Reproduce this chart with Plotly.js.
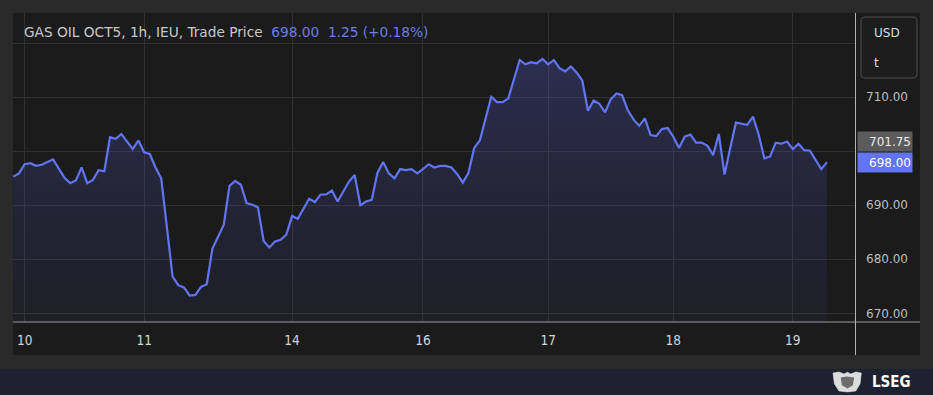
<!DOCTYPE html>
<html>
<head>
<meta charset="utf-8">
<script src="https://cdn.plot.ly/plotly-3.0.1.min.js"></script>
<style>
  html, body { margin: 0; padding: 0; background: #2a2a2a; }
  #chart { width: 933px; height: 395px; }
</style>
</head>
<body>
<div id="chart"></div>
<script>
// Hourly trade prices (USD/t), GAS OIL OCT5
const prices = [
  695.3, 695.9, 697.6, 697.8, 697.3, 697.5, 698.0, 698.5, 696.8, 695.1,
  694.1, 694.6, 697.0, 694.1, 694.7, 696.5, 696.3, 702.6, 702.3, 703.2,
  701.8, 700.4, 702.0, 699.8, 699.5, 697.0, 695.0, 686.0, 676.8, 675.2,
  674.8, 673.3, 673.4, 674.9, 675.4, 682.0, 684.3, 686.4, 693.6, 694.5,
  693.8, 690.4, 690.1, 689.6, 683.4, 682.2, 683.3, 683.6, 684.6, 688.0,
  687.5, 689.4, 691.2, 690.6, 692.0, 692.0, 692.7, 690.7, 692.5, 694.4,
  695.6, 690.0, 690.7, 691.0, 696.0, 698.0, 695.9, 695.0, 696.7, 696.5,
  696.7, 695.9, 696.7, 697.6, 697.0, 697.3, 697.3, 697.0, 695.8, 694.2,
  696.0, 700.6, 702.0, 706.0, 710.1, 709.1, 709.1, 709.8, 713.4, 716.9,
  716.1, 716.5, 716.3, 717.1, 716.1, 716.9, 715.4, 714.8, 715.7, 714.6,
  713.1, 707.5, 709.4, 708.8, 707.2, 709.6, 710.7, 710.4, 707.6, 705.9,
  704.7, 706.1, 703.0, 702.8, 704.1, 704.3, 702.7, 700.6, 702.7, 703.1,
  701.6, 701.6, 701.0, 699.3, 703.2, 695.7, 700.6, 705.3, 705.1, 704.9,
  706.4, 703.1, 698.7, 699.0, 701.6, 701.4, 701.8, 700.4, 701.4, 700.2,
  700.1, 698.4, 696.7, 698.0
];
const hourIndex = prices.map((_, i) => i);

// Day tick labels (bar index where each trading day starts)
const dayTickIndex = [2, 23, 49, 72, 94, 116, 137];
const dayTickLabels = ['10', '11', '14', '16', '17', '18', '19'];

// Price axis
const priceTicks = [670, 680, 690, 700, 710, 720];
const priceTickLabels = ['670.00', '680.00', '690.00', '', '710.00', ''];

// Header / markers
const instrument = 'GAS OIL OCT5, 1h, IEU, Trade Price';
const lastPrice = 698.00;
const change = '1.25 (+0.18%)';
const refPrice = 701.75;

const lineColor = '#6274f2';

const trace = {
  x: hourIndex,
  y: prices,
  type: 'scatter',
  mode: 'lines',
  line: { color: lineColor, width: 2.2, shape: 'linear' },
  fill: 'tozeroy',
  fillgradient: {
    type: 'vertical',
    start: 668,
    stop: 720,
    colorscale: [[0, 'rgba(60,66,140,0.10)'], [1, 'rgba(80,92,200,0.32)']]
  },
  hoverinfo: 'skip'
};

const fontFam = '"DejaVu Sans", "Noto Sans", sans-serif';
const sp = '\u00a0';

const layout = {
  width: 933,
  height: 395,
  margin: { l: 13, r: 78, t: 13, b: 73, pad: 0 },
  paper_bgcolor: '#2a2a2a',
  plot_bgcolor: 'rgba(0,0,0,0)',
  showlegend: false,
  font: { family: fontFam, color: '#cfcfcf' },
  xaxis: {
    range: [-0.05, 147.93],
    tickmode: 'array',
    tickvals: dayTickIndex,
    ticktext: dayTickLabels,
    showgrid: true,
    gridcolor: '#313131',
    gridwidth: 1,
    zeroline: false,
    showline: false,
    ticks: '',
    ticklabelstandoff: 8,
    tickfont: { family: '"DejaVu Sans Condensed", "DejaVu Sans", sans-serif', size: 13.5, color: '#d4d4d4' },
    fixedrange: true
  },
  yaxis: {
    side: 'right',
    range: [668.39, 725.6],
    tickmode: 'array',
    tickvals: priceTicks,
    ticktext: priceTickLabels,
    showgrid: true,
    gridcolor: '#313131',
    gridwidth: 1,
    zeroline: false,
    showline: false,
    ticks: '',
    ticklabelstandoff: 10,
    tickfont: { family: fontFam, size: 12, color: '#bdbdbd' },
    fixedrange: true
  },
  shapes: [
    // dark chart panel
    { type: 'rect', xref: 'paper', yref: 'paper', x0: 0, x1: 1.0772, y0: -0.1068, y1: 1,
      fillcolor: '#1b1b1b', line: { width: 0 }, layer: 'below' },
    // bottom navy strip
    { type: 'rect', xref: 'paper', yref: 'paper', x0: -0.0155, x1: 1.0926, y0: -0.2362, y1: -0.1521,
      fillcolor: '#1e2230', line: { width: 0 }, layer: 'below' },
    // x axis line
    { type: 'line', xref: 'paper', yref: 'paper', x0: 0, x1: 1.0772, y0: 0, y1: 0,
      line: { color: '#9c9c9c', width: 1.2 } },
    // price axis separator
    { type: 'line', xref: 'paper', yref: 'paper', x0: 1.0006, x1: 1.0006, y0: -0.1068, y1: 1,
      line: { color: '#b4b4b4', width: 1 } },
    // USD box
    { type: 'path', xref: 'paper', yref: 'paper',
      path: 'M 1.0119,0.987 L 1.0689,0.987 Q 1.0736,0.987 1.0736,0.974 L 1.0736,0.8026 Q 1.0736,0.7896 1.0689,0.7896 L 1.0119,0.7896 Q 1.0071,0.7896 1.0071,0.8026 L 1.0071,0.974 Q 1.0071,0.987 1.0119,0.987 Z',
      fillcolor: '#1d1d1d', line: { color: '#4f4f4f', width: 1 } },
    // crest emblem (approximation)
    { type: 'path', xref: 'paper', yref: 'paper',
      path: 'M 0.9739,-0.1650 L 0.9810,-0.1618 L 0.9870,-0.1680 L 0.9910,-0.1625 L 0.9950,-0.1680 L 1.0010,-0.1618 L 1.0075,-0.1650 L 1.0060,-0.2000 L 1.0010,-0.2230 L 0.9910,-0.2265 L 0.9810,-0.2230 L 0.9755,-0.2000 Z',
      fillcolor: '#dcdcdc', line: { color: '#f2f2f2', width: 0.5 } },
    { type: 'path', xref: 'paper', yref: 'paper',
      path: 'M 0.9830,-0.1800 L 0.9900,-0.1760 L 0.9990,-0.1800 L 0.9975,-0.2050 L 0.9910,-0.2150 L 0.9845,-0.2050 Z',
      fillcolor: '#6d6d6d', line: { width: 0 } }
  ],
  annotations: [
    { xref: 'paper', yref: 'paper', x: 0.0107, y: 0.9385, xanchor: 'left', yanchor: 'middle',
      showarrow: false, align: 'left',
      text: instrument + sp + sp + '<span style="color:#6d7de6">' + lastPrice.toFixed(2) + sp + sp + change + '</span>',
      font: { family: fontFam, size: 13.7, color: '#c9c9c9' } },
    { xref: 'paper', yref: 'paper', x: 1.0202, y: 0.9353, xanchor: 'left', yanchor: 'middle',
      showarrow: false, text: 'USD', font: { family: fontFam, size: 12, color: '#dedede' } },
    { xref: 'paper', yref: 'paper', x: 1.0202, y: 0.838, xanchor: 'left', yanchor: 'middle',
      showarrow: false, text: 't', font: { family: fontFam, size: 12, color: '#dedede' } },
    { xref: 'paper', yref: 'y', x: 1.0018, y: refPrice, xanchor: 'left', yanchor: 'middle',
      showarrow: false, text: refPrice.toFixed(2), align: 'right',
      width: 52, height: 17, borderpad: 1, bgcolor: '#5b5b5b',
      font: { family: fontFam, size: 12, color: '#ececec' } },
    { xref: 'paper', yref: 'y', x: 1.0018, y: lastPrice, xanchor: 'left', yanchor: 'middle',
      showarrow: false, text: lastPrice.toFixed(2), align: 'right',
      width: 52, height: 17, borderpad: 1, bgcolor: lineColor,
      font: { family: fontFam, size: 12, color: '#ffffff' } },
    { xref: 'paper', yref: 'paper', x: 1.0178, y: -0.194, xanchor: 'left', yanchor: 'middle',
      showarrow: false, text: '<b>LSEG</b>', font: { family: '"DejaVu Sans Condensed", "DejaVu Sans", sans-serif', size: 15, color: '#ffffff' } }
  ]
};

Plotly.newPlot('chart', [trace], layout, { displayModeBar: false, staticPlot: true });
</script>
</body>
</html>
